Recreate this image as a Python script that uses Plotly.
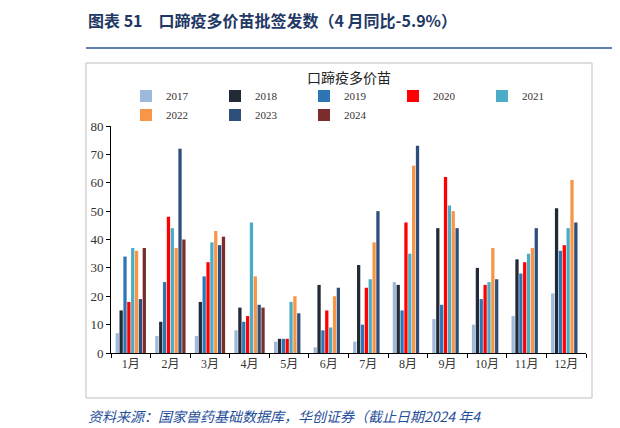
import plotly.graph_objects as go

months = ["1月","2月","3月","4月","5月","6月","7月","8月","9月","10月","11月","12月"]
years = ["2017","2018","2019","2020","2021","2022","2023","2024"]
v2017 = [7,6,6,8,4,2,4,25,12,10,13,21]
v2018 = [15,11,18,16,5,24,31,24,44,30,33,51]
v2019 = [34,25,27,11,5,8,10,15,17,19,28,36]
v2020 = [18,48,32,13,5,15,23,46,62,24,32,38]
v2021 = [37,44,39,46,18,9,26,35,52,25,35,44]
v2022 = [36,37,43,27,20,20,39,66,50,37,37,61]
v2023 = [19,72,38,17,14,23,50,73,44,26,44,46]
v2024 = [37,40,41,16,None,None,None,None,None,None,None,None]
series = [v2017,v2018,v2019,v2020,v2021,v2022,v2023,v2024]
colors = ["#9DB9DC","#222A35","#2E75B6","#FF0000","#4BACC6","#F79646","#2F4F7A","#7B2C2C"]

fig = go.Figure()
for y, vals, c in zip(years, series, colors):
    fig.add_trace(go.Bar(name=y, x=months, y=vals, marker=dict(color=c, line=dict(width=0))))

fig.update_layout(
    width=620, height=428, barmode="group", bargap=0.22, bargroupgap=0.15,
    paper_bgcolor="white", plot_bgcolor="white",
    margin=dict(l=103, r=42, t=118, b=83),
    font=dict(family="Liberation Serif, Noto Sans CJK SC", size=12, color="#333"),
    legend=dict(orientation="h", x=0.5, xanchor="center", y=1.09, yanchor="middle",
                font=dict(size=11), entrywidth=44, entrywidthmode="pixels", itemwidth=30,
                tracegroupgap=0),
    xaxis=dict(showline=True, linecolor="black", ticks="outside", tickcolor="black", ticklen=4,
               tickson="boundaries", tickfont=dict(size=12)),
    yaxis=dict(range=[0,80], dtick=10, showline=True, linecolor="black", ticks="outside",
               tickcolor="black", ticklen=4, showgrid=False, zeroline=False, tickfont=dict(size=13)),
    showlegend=True,
)
fig.add_annotation(xref="paper", yref="paper", x=0.5, y=1.215, xanchor="center", yanchor="middle",
                   text="口蹄疫多价苗", showarrow=False, font=dict(size=14, color="#222", family="Noto Sans CJK SC"))
fig.add_annotation(xref="paper", yref="paper", x=(78-103)/475, y=(428-83-12)/227, xanchor="left", yanchor="middle",
                   text="<b>图表 51　口蹄疫多价苗批签发数（4 月同比-5.9%）</b>", showarrow=False,
                   font=dict(size=16, color="#1F3864", family="Noto Sans CJK SC"))
fig.add_annotation(xref="paper", yref="paper", x=(78-103)/475, y=(428-83-408)/227, xanchor="left", yanchor="middle",
                   text="<i>资料来源：国家兽药基础数据库，华创证券（截止日期2024 年4</i>", showarrow=False,
                   font=dict(size=14, color="#1F4E9A", family="Noto Sans CJK SC"))
fig.add_shape(type="line", xref="paper", yref="paper", x0=(78-103)/475, x1=(620-103)/475,
              y0=(428-83-40)/227, y1=(428-83-40)/227, line=dict(color="#2E5597", width=1.5))
fig.add_shape(type="rect", xref="paper", yref="paper", x0=(78-103)/475, x1=(584-103)/475,
              y0=(428-83-390)/227, y1=(428-83-55)/227, line=dict(color="#BFBFBF", width=1))
fig.write_html("out.html")
